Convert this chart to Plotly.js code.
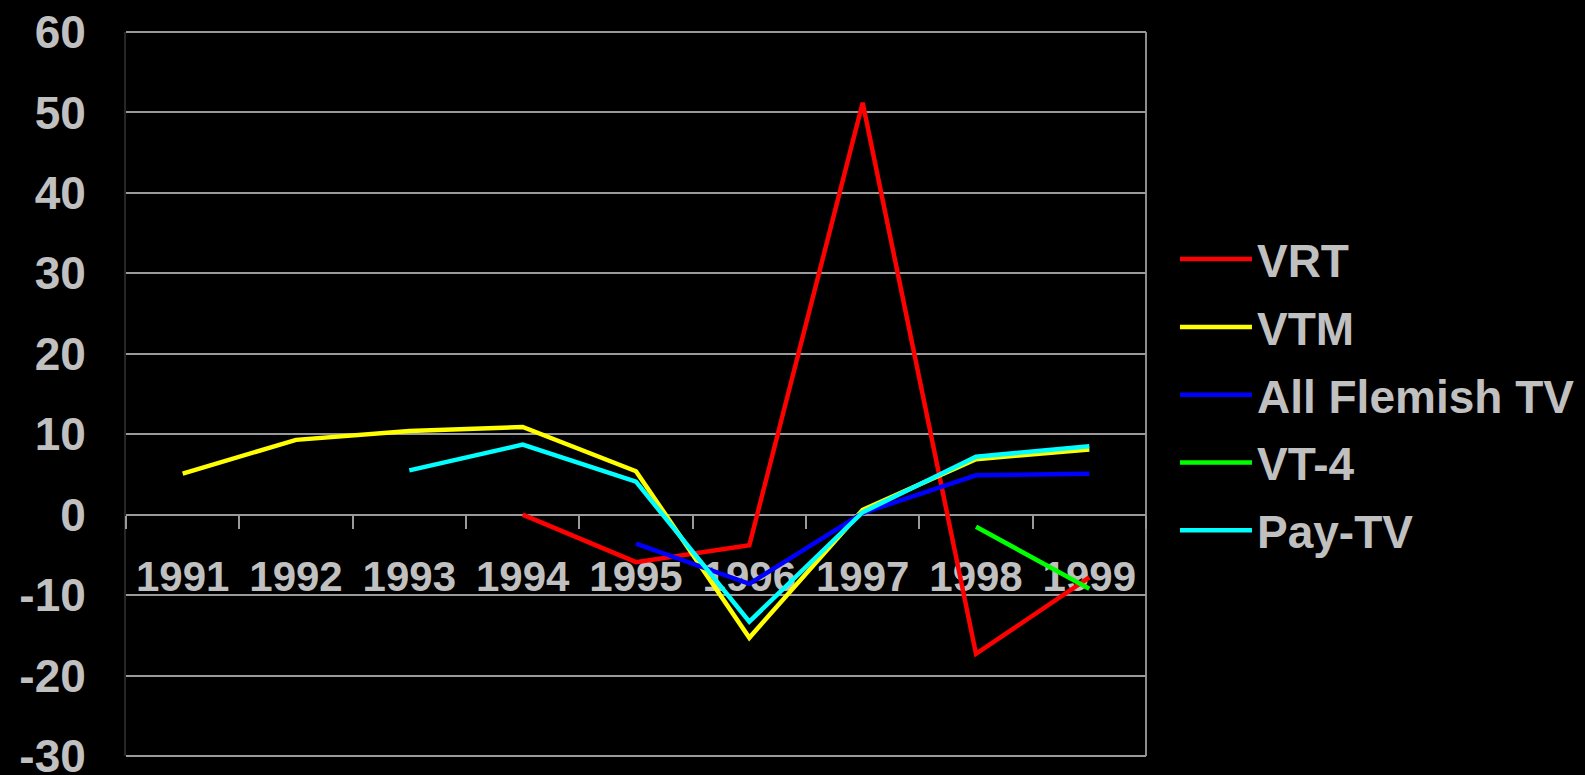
<!DOCTYPE html>
<html>
<head>
<meta charset="utf-8">
<script src="https://cdn.plot.ly/plotly-3.0.1.min.js"></script>
<style>
  html, body { margin: 0; padding: 0; background: #000000; }
  #chart { width: 1585px; height: 775px; }
</style>
</head>
<body>
<div id="chart"></div>
<script>
// Yearly growth (%) of Flemish TV broadcasters
const years = ['1991', '1992', '1993', '1994', '1995', '1996', '1997', '1998', '1999'];

const vrt         = [null, null, null, 0.0, -5.9, -3.8, 51.2, -17.3, -7.8];
const vtm         = [5.1, 9.3, 10.4, 10.9, 5.4, -15.3, 0.6, 6.9, 8.1];
const allFlemish  = [null, null, null, null, -3.6, -8.6, 0.2, 4.9, 5.1];
const vt4         = [null, null, null, null, null, null, null, -1.5, -9.2];
const payTV       = [null, null, 5.5, 8.7, 4.1, -13.3, 0.3, 7.2, 8.5];

const seriesNames  = ['VRT', 'VTM', 'All Flemish TV', 'VT-4', 'Pay-TV'];
const seriesValues = [vrt, vtm, allFlemish, vt4, payTV];
const seriesColors = ['#ff0000', '#ffff00', '#0000ff', '#00ff00', '#00ffff'];

// Value axis ticks, written with a plain hyphen for negatives
const yTickValues = [-30, -20, -10, 0, 10, 20, 30, 40, 50, 60];
const yTickLabels = ['-30', '-20', '-10', '0', '10', '20', '30', '40', '50', '60'];

const yRange = [-30, 60];
const textColor = '#c0c0c0';
const gridColor = '#9a9a9a';
const fontFamily = '"Liberation Sans", Arial, sans-serif';

const traces = seriesNames.map((name, i) => ({
  type: 'scatter',
  mode: 'lines',
  name: name,
  x: years,
  y: seriesValues[i],
  connectgaps: false,
  legendgroup: 'g' + i,
  line: { color: seriesColors[i], width: 4.5 },
  hoverinfo: 'skip'
}));

const frameLine = (x0, x1, y0, y1, color) => ({
  type: 'line', xref: 'paper', yref: 'paper', x0, x1, y0, y1,
  line: { color: color, width: 2 }, layer: 'below'
});

const layout = {
  width: 1585,
  height: 775,
  paper_bgcolor: '#000000',
  plot_bgcolor: '#000000',
  margin: { l: 126, r: 439, t: 32, b: 19 },
  font: { family: fontFamily, color: textColor },
  showlegend: true,
  legend: {
    xref: 'container',
    x: 0.7413,
    xanchor: 'left',
    y: 0.499,
    yanchor: 'middle',
    bgcolor: 'rgba(0,0,0,0)',
    font: { family: fontFamily, size: 46, color: textColor, weight: 'bold' },
    itemwidth: 72,
    tracegroupgap: 5
  },
  xaxis: {
    type: 'category',
    range: [-0.5, years.length - 0.5],
    anchor: 'free',
    position: (0 - yRange[0]) / (yRange[1] - yRange[0]),
    showline: true,
    linecolor: gridColor,
    linewidth: 2,
    ticks: 'outside',
    tickson: 'boundaries',
    ticklen: 13,
    tickwidth: 2,
    tickcolor: gridColor,
    ticklabelstandoff: 25,
    showgrid: false,
    zeroline: false,
    layer: 'below traces',
    tickfont: { family: fontFamily, size: 42, color: textColor, weight: 'bold' },
    fixedrange: true
  },
  yaxis: {
    range: yRange,
    tickmode: 'array',
    tickvals: yTickValues,
    ticktext: yTickLabels,
    ticklabeloverflow: 'allow',
    showline: true,
    linecolor: '#262626',
    linewidth: 2,
    ticks: '',
    ticklabelstandoff: 29,
    showgrid: true,
    gridcolor: gridColor,
    gridwidth: 2,
    zeroline: true,
    zerolinecolor: gridColor,
    zerolinewidth: 2,
    layer: 'below traces',
    tickfont: { family: fontFamily, size: 46, color: textColor, weight: 'bold' },
    fixedrange: true
  },
  shapes: [
    frameLine(1, 1, 0, 1, '#8c8c8c'),
    frameLine(0, 1, 1, 1, gridColor),
    frameLine(0, 1, 0, 0, gridColor)
  ]
};

Plotly.newPlot('chart', traces, layout, { displayModeBar: false, staticPlot: true });
</script>
</body>
</html>
